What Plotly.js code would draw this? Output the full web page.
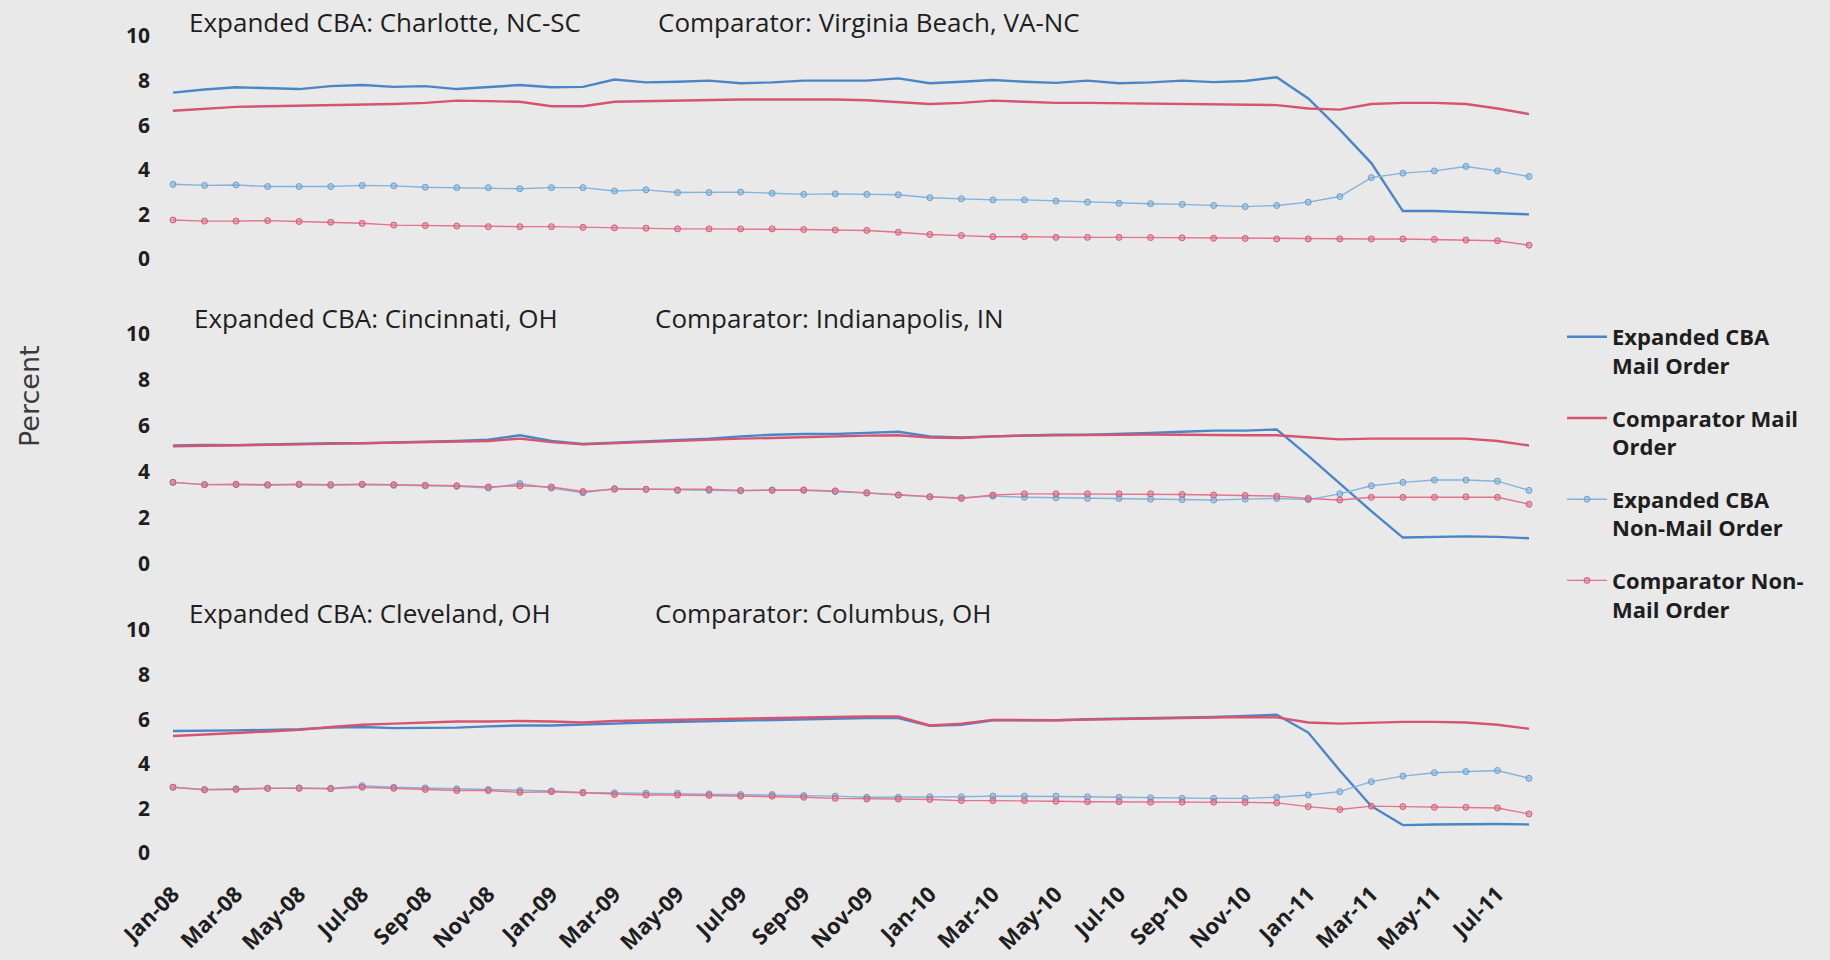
<!DOCTYPE html>
<html><head><meta charset="utf-8">
<script src="https://cdn.plot.ly/plotly-3.0.1.min.js"></script>
<style>html,body{margin:0;padding:0;background:#e9e9e9;} #chart{width:1830px;height:960px;}</style>
</head><body><div id="chart"></div>
<script>
const months = ["Jan-08","Feb-08","Mar-08","Apr-08","May-08","Jun-08","Jul-08","Aug-08","Sep-08","Oct-08","Nov-08","Dec-08",
"Jan-09","Feb-09","Mar-09","Apr-09","May-09","Jun-09","Jul-09","Aug-09","Sep-09","Oct-09","Nov-09","Dec-09",
"Jan-10","Feb-10","Mar-10","Apr-10","May-10","Jun-10","Jul-10","Aug-10","Sep-10","Oct-10","Nov-10","Dec-10",
"Jan-11","Feb-11","Mar-11","Apr-11","May-11","Jun-11","Jul-11","Aug-11"];
const tickLabels = ["Jan-08","Mar-08","May-08","Jul-08","Sep-08","Nov-08","Jan-09","Mar-09","May-09","Jul-09","Sep-09","Nov-09",
"Jan-10","Mar-10","May-10","Jul-10","Sep-10","Nov-10","Jan-11","Mar-11","May-11","Jul-11"];
const yTicks = [0,2,4,6,8,10];
const seriesNames = ["Expanded CBA<br>Mail Order","Comparator Mail<br>Order","Expanded CBA<br>Non-Mail Order","Comparator Non-<br>Mail Order"];
const panelExpanded = ["Expanded CBA: Charlotte, NC-SC","Expanded CBA: Cincinnati, OH","Expanded CBA: Cleveland, OH"];
const panelComparator = ["Comparator: Virginia Beach, VA-NC","Comparator: Indianapolis, IN","Comparator: Columbus, OH"];
const axisTitle = "Percent";

// Panel 1: Charlotte vs Virginia Beach
const charlotteMail = [7.46,7.6,7.7,7.65,7.62,7.75,7.8,7.72,7.75,7.62,7.7,7.8,7.7,7.72,8.05,7.92,7.95,8.0,7.88,7.92,8.0,8.0,8.0,8.1,
7.88,7.95,8.03,7.95,7.9,8.0,7.88,7.92,8.0,7.93,7.98,8.15,7.2,5.8,4.3,2.15,2.15,2.1,2.05,2.0];
const virginiaMail = [6.65,6.75,6.82,6.85,6.87,6.9,6.93,6.95,7.0,7.1,7.08,7.05,6.85,6.85,7.05,7.08,7.12,7.15,7.15,7.15,7.16,7.15,7.12,7.05,
6.95,7.0,7.1,7.05,7.0,7.0,6.98,6.95,6.95,6.92,6.92,6.9,6.75,6.7,6.95,7.0,7.0,6.95,6.75,6.5];
const charlotteNonMail = [3.35,3.3,3.32,3.25,3.25,3.25,3.3,3.28,3.22,3.2,3.2,3.15,3.2,3.2,3.05,3.1,2.98,2.98,3.0,2.95,2.9,2.92,2.9,2.88,
2.75,2.7,2.65,2.65,2.6,2.55,2.5,2.48,2.45,2.4,2.35,2.4,2.55,2.8,3.65,3.85,3.95,4.15,3.95,3.7];
const virginiaNonMail = [1.75,1.7,1.7,1.72,1.68,1.65,1.6,1.52,1.5,1.48,1.45,1.45,1.45,1.42,1.4,1.38,1.35,1.35,1.35,1.35,1.32,1.3,1.28,1.2,
1.1,1.05,1.0,1.0,0.97,0.97,0.97,0.96,0.95,0.93,0.92,0.9,0.9,0.9,0.9,0.9,0.88,0.85,0.82,0.62];

// Panel 2: Cincinnati vs Indianapolis
const cincinnatiMail = [5.15,5.18,5.17,5.2,5.22,5.25,5.25,5.3,5.32,5.35,5.4,5.6,5.35,5.22,5.28,5.35,5.4,5.45,5.55,5.62,5.65,5.65,5.7,5.75,
5.55,5.5,5.55,5.6,5.62,5.62,5.65,5.7,5.75,5.8,5.8,5.85,4.7,3.5,2.3,1.15,1.18,1.2,1.18,1.12];
const indianapolisMail = [5.12,5.15,5.15,5.18,5.2,5.22,5.25,5.28,5.3,5.32,5.35,5.45,5.3,5.2,5.25,5.32,5.38,5.4,5.45,5.48,5.52,5.55,5.58,5.6,
5.5,5.48,5.55,5.58,5.6,5.62,5.63,5.63,5.62,5.6,5.6,5.6,5.5,5.42,5.45,5.45,5.45,5.45,5.35,5.15];
const cincinnatiNonMail = [3.55,3.45,3.45,3.42,3.45,3.42,3.45,3.42,3.4,3.38,3.3,3.5,3.3,3.1,3.28,3.25,3.2,3.2,3.18,3.22,3.2,3.15,3.08,3.0,
2.92,2.88,2.95,2.9,2.88,2.85,2.85,2.82,2.8,2.78,2.82,2.85,2.8,3.05,3.4,3.55,3.65,3.65,3.6,3.2];
const indianapolisNonMail = [3.55,3.45,3.47,3.45,3.47,3.45,3.47,3.45,3.42,3.4,3.35,3.4,3.35,3.15,3.25,3.25,3.22,3.25,3.2,3.2,3.22,3.18,3.1,3.0,
2.92,2.85,3.0,3.05,3.05,3.05,3.05,3.05,3.02,3.0,2.98,2.95,2.85,2.78,2.9,2.9,2.9,2.92,2.9,2.6];

// Panel 3: Cleveland vs Columbus
const clevelandMail = [5.47,5.47,5.5,5.52,5.55,5.62,5.65,5.6,5.6,5.62,5.68,5.72,5.72,5.75,5.8,5.85,5.88,5.9,5.92,5.95,5.98,6.0,6.05,6.05,
5.7,5.75,5.95,5.95,5.95,6.0,6.02,6.05,6.08,6.1,6.15,6.2,5.4,3.7,2.1,1.25,1.28,1.3,1.3,1.28];
const columbusMail = [5.25,5.3,5.38,5.45,5.52,5.65,5.75,5.8,5.85,5.9,5.9,5.92,5.9,5.85,5.92,5.95,5.97,6.0,6.02,6.05,6.08,6.1,6.12,6.12,
5.72,5.8,5.97,5.95,5.95,5.98,6.0,6.02,6.05,6.08,6.1,6.08,5.85,5.8,5.85,5.88,5.88,5.85,5.75,5.57];
const clevelandNonMail = [2.95,2.85,2.88,2.9,2.92,2.9,3.02,2.95,2.92,2.88,2.85,2.8,2.78,2.72,2.7,2.68,2.68,2.65,2.62,2.62,2.58,2.55,2.5,2.5,
2.52,2.52,2.55,2.55,2.55,2.52,2.5,2.48,2.45,2.45,2.45,2.5,2.6,2.75,3.2,3.45,3.6,3.65,3.7,3.35];
const columbusNonMail = [2.95,2.83,2.85,2.9,2.9,2.88,2.95,2.9,2.85,2.8,2.8,2.72,2.75,2.7,2.62,2.6,2.6,2.58,2.55,2.55,2.5,2.45,2.42,2.42,
2.4,2.35,2.35,2.35,2.32,2.3,2.3,2.28,2.28,2.28,2.27,2.25,2.08,1.95,2.1,2.08,2.05,2.05,2.02,1.75];

const panels = [
  [charlotteMail, virginiaMail, charlotteNonMail, virginiaNonMail],
  [cincinnatiMail, indianapolisMail, cincinnatiNonMail, indianapolisNonMail],
  [clevelandMail, columbusMail, clevelandNonMail, columbusNonMail]
];

const styles = [
  {mode:'lines', line:{color:'#4a86c6', width:2.4}},
  {mode:'lines', line:{color:'#d6546f', width:2.4}},
  {mode:'lines+markers', line:{color:'#82b4dc', width:1.4}, marker:{symbol:'circle', size:6, color:'rgba(130,180,220,0.55)', line:{color:'#6a9fcb', width:1}}},
  {mode:'lines+markers', line:{color:'#e0758b', width:1.4}, marker:{symbol:'circle', size:6, color:'rgba(224,117,139,0.55)', line:{color:'#d25c76', width:1}}}
];

const traces = [];
panels.forEach((series, p) => {
  series.forEach((vals, s) => {
    traces.push(Object.assign({
      type:'scatter', x:months, y:vals, name:seriesNames[s],
      xaxis:'x', yaxis: p === 0 ? 'y' : 'y' + (p + 1),
      showlegend: p === 0, legendgroup:'g' + s, cliponaxis:false,
      hoverinfo:'x+y+name'
    }, JSON.parse(JSON.stringify(styles[s]))));
  });
});

const W = 1830, H = 960;
const font = '"Open Sans", Lato, sans-serif';
const yDomains = [[1-259/H, 1-36/H],[1-564/H, 1-334/H],[1-853/H, 1-630/H]];
function yAxis(d){
  return {domain:d, range:[0,10], anchor:'x', tickmode:'array', tickvals:yTicks, ticktext:yTicks.map(String),
    showgrid:false, zeroline:false, showline:false, ticks:'', ticklabelstandoff:22,
    tickfont:{family:font, size:21, weight:700, color:'#1e1e1e'}, fixedrange:true};
}
const titleFont = {family:font, size:26, color:'#1e1e1e'};
const annYs = [1-22/H, 1-318/H, 1-613/H];
const annXsE = [187, 192, 187];
const annXsC = [656, 653, 653];
const annotations = [];
for (let p = 0; p < 3; p++) {
  annotations.push({text:panelExpanded[p], x:annXsE[p]/W, y:annYs[p], xref:'paper', yref:'paper', xanchor:'left', yanchor:'middle', showarrow:false, font:titleFont});
  annotations.push({text:panelComparator[p], x:annXsC[p]/W, y:annYs[p], xref:'paper', yref:'paper', xanchor:'left', yanchor:'middle', showarrow:false, font:titleFont});
}
annotations.push({text:axisTitle, x:29/W, y:1-396/H, xref:'paper', yref:'paper', xanchor:'center', yanchor:'middle', textangle:-90, showarrow:false,
  font:{family:'"DejaVu Sans", sans-serif', size:27, color:'#3a3a3a'}});

const layout = {
  width:W, height:H, margin:{l:0, r:0, t:0, b:0},
  paper_bgcolor:'#e9e9e9', plot_bgcolor:'rgba(0,0,0,0)',
  showlegend:true,
  legend:{x:1562/W, y:1-316/H, xanchor:'left', yanchor:'top', valign:'top', tracegroupgap:21, itemwidth:40,
    bgcolor:'rgba(0,0,0,0)', font:{family:font, size:22, weight:700, color:'#1e1e1e'}},
  xaxis:{type:'category', domain:[173/W, 1529/W], range:[0,43], anchor:'y3', tickmode:'array', tickvals:tickLabels, ticktext:tickLabels,
    tickangle:-45, showgrid:false, zeroline:false, showline:false, ticks:'', ticklabelstandoff:23,
    tickfont:{family:font, size:22, weight:700, color:'#1e1e1e'}, fixedrange:true},
  yaxis:yAxis(yDomains[0]), yaxis2:yAxis(yDomains[1]), yaxis3:yAxis(yDomains[2]),
  annotations:annotations
};
Plotly.newPlot('chart', traces, layout, {displayModeBar:false, staticPlot:true});
</script></body></html>
